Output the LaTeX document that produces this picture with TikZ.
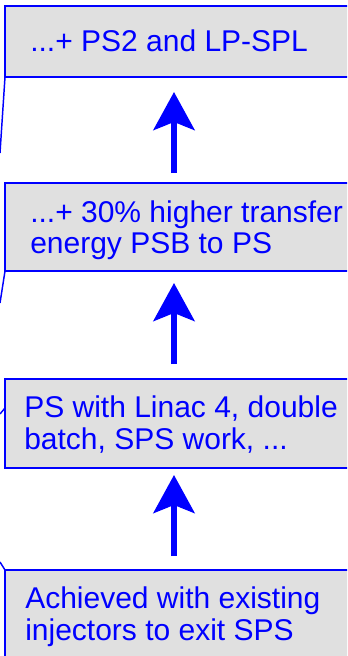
\documentclass[tikz,border=0pt]{standalone}
\usepackage{fontspec}
\setmainfont{Liberation Sans}
\usepackage{xcolor}
\usetikzlibrary{arrows.meta,positioning,calc}

\definecolor{stageblue}{RGB}{0,0,255}
\definecolor{stagegray}{RGB}{224,224,224}

\tikzset{
  stagebox/.style={draw=stageblue, fill=stagegray, line width=1.3pt},
  stagetext/.style={text=stageblue, anchor=base west, inner sep=0pt, font=\fontsize{22.5pt}{24pt}\selectfont},
  upstep/.style={stageblue, line width=4.6pt,
    -{Stealth[length=28.5pt, width=30.75pt, inset=6pt]}},
  sideline/.style={draw=stageblue, line width=1.1pt}
}

\begin{document}
\begin{tikzpicture}[x=0.75pt, y=-0.75pt]
        \useasboundingbox (0,0) rectangle (347,656);
        \clip (0,0) rectangle (347,656);

        % Stage boxes, top to bottom.
        \draw[stagebox] (5,6) rectangle (360,77);
        \coordinate (b1s) at (174,77);
        \draw[stagebox] (5,183) rectangle (360,271);
        \coordinate (b2n) at (174,183);
        \coordinate (b2s) at (174,271);
        \draw[stagebox] (5,379) rectangle (360,468);
        \coordinate (b3n) at (174,379);
        \coordinate (b3s) at (174,468);
        \draw[stagebox] (5,570) rectangle (360,670);
        \coordinate (b4n) at (174,570);

        % Texts.
        \node[stagetext] (t1) at (30,52) {...+ PS2 and LP-SPL};
        \node[stagetext] (t2a) at (30,222) {...+ 30\% higher transfer};
        \node[stagetext] (t2b) at (30,253) {energy PSB to PS};
        \node[stagetext] (t3a) at (24,417) {PS with Linac 4, double};
        \node[stagetext] (t3b) at (24,449) {batch, SPS work, ...};
        \node[stagetext] (t4a) at (25,608) {Achieved with existing};
        \node[stagetext] (t4b) at (25,640) {injectors to exit SPS};

        % Upward steps.
        \draw[upstep, shorten <=10pt*0.75, shorten >=15pt*0.75] (b2n) -- (b1s);
        \draw[upstep, shorten <=15pt*0.75, shorten >=12pt*0.75] (b3n) -- (b2s);
        \draw[upstep, shorten <=14pt*0.75, shorten >=7pt*0.75] (b4n) -- (b3s);

        % Cut-off links at the left edge.
        \draw[sideline] (5,77) -- (0,153);
        \draw[sideline] (5,271) -- (0,303);
        \draw[sideline] (5,408) -- (0,414);
        \draw[sideline] (0,562) -- (5,570);
    \end{tikzpicture}
\end{document}
